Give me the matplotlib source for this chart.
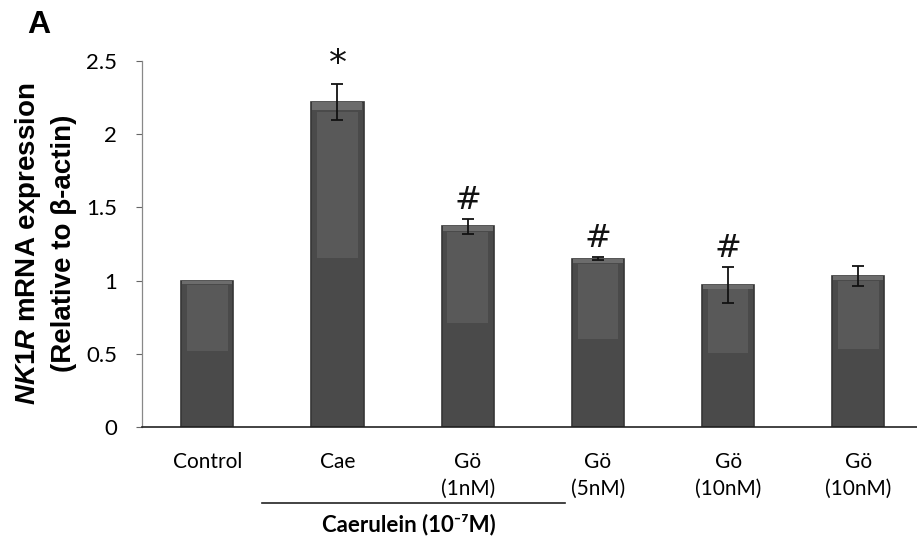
import matplotlib
matplotlib.use("Agg")
import matplotlib.pyplot as plt
import numpy as np

categories = ["Control", "Cae", "Gö\n(1nM)", "Gö\n(5nM)", "Gö\n(10nM)", "Gö\n(10nM)"]
values = [1.0, 2.22, 1.37, 1.15, 0.97, 1.03]
errors = [0.0, 0.12, 0.05, 0.01, 0.125, 0.068]
marks = ["", "*", "#", "#", "#", ""]
yticks = [0, 0.5, 1, 1.5, 2, 2.5]
ytick_labels = ["0", "0.5", "1", "1.5", "2", "2.5"]

plt.rcParams["mathtext.fontset"] = "custom"
plt.rcParams["mathtext.it"] = "Liberation Sans:italic:bold"
plt.rcParams["mathtext.rm"] = "Liberation Sans:bold"
plt.rcParams["mathtext.bf"] = "Liberation Sans:bold"

tick_font = ["Lato", "DejaVu Sans"]

fig = plt.figure(figsize=(9.17, 5.45), dpi=100)
ax = fig.add_axes([0.155, 0.2165, 0.845, 0.6716])

x = np.arange(len(categories))
w = 0.4
vals = np.array(values)
ax.bar(x, vals, width=w, color="#4a4a4a", edgecolor="#363636", linewidth=1.2, zorder=2)
# subtle lighter sheen on upper part of bars
ax.bar(x, vals * 0.45, bottom=vals * 0.52, width=w * 0.78, color="#595959", linewidth=0, zorder=3)
ax.bar(x, vals * 0.025, bottom=vals * 0.975, width=w * 0.96, color="#6c6c6c", linewidth=0, zorder=3)

for xi, v, e in zip(x, values, errors):
    if e > 0:
        ax.errorbar(xi, v, yerr=e, fmt="none", ecolor="#111111", elinewidth=1.3, capsize=4, capthick=1.3, zorder=4)

for xi, v, e, m in zip(x, values, errors, marks):
    if m:
        ax.text(xi, v + e + 0.02, m, ha="center", va="bottom", fontsize=26 if m == "*" else 23,
                family="DejaVu Sans", color="#111111")

ax.set_xlim(-0.5, 5.45)
ax.set_ylim(0, 2.5)
ax.set_yticks(yticks)
ax.set_yticklabels(ytick_labels, fontsize=16, family=tick_font)
ax.set_xticks(x)
ax.set_xticklabels(categories, fontsize=15, family=tick_font, linespacing=1.45, va="top")
ax.tick_params(axis="x", length=0, pad=18)
ax.tick_params(axis="y", length=4, width=0.8, color="#666666", pad=14, direction="out")
for s in ["top", "right"]:
    ax.spines[s].set_visible(False)
ax.spines["left"].set_color("#888888")
ax.spines["left"].set_linewidth(0.9)
ax.spines["bottom"].set_color("#222222")
ax.spines["bottom"].set_linewidth(1.2)

# y label
fig.text(0.030, 0.553, r"$NK1R$ mRNA expression", rotation=90, ha="center", va="center",
         fontsize=20, fontweight="bold", family="Liberation Sans")
fig.text(0.070, 0.553, "(Relative to β-actin)", rotation=90, ha="center", va="center",
         fontsize=20, fontweight="bold", family="Liberation Sans")

# bracket line for Caerulein group
ax.plot([0.42, 2.75], [-0.52, -0.52], color="#222222", lw=1.2, clip_on=False)
ax.text(1.545, -0.59, "Caerulein (10⁻⁷M)", ha="center", va="top", fontsize=16,
        fontweight="bold", family=tick_font)

fig.text(0.03, 0.955, "A", fontsize=23, fontweight="bold", family="Liberation Sans", ha="left", va="center")

fig.savefig("out.png", dpi=100)
